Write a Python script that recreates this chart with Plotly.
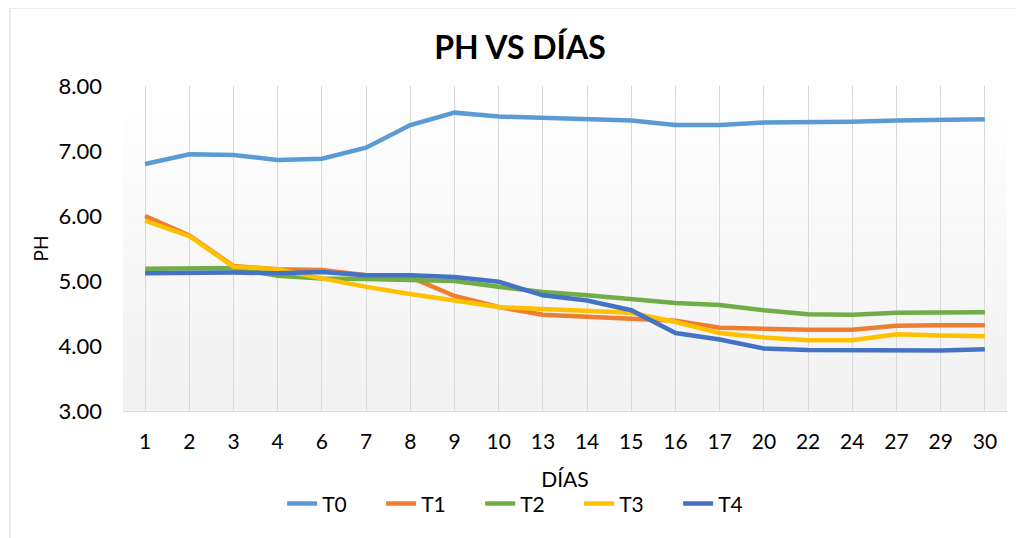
import plotly.graph_objects as go

# data
dias = ["1", "2", "3", "4", "6", "7", "8", "9", "10", "13",
        "14", "15", "16", "17", "20", "22", "24", "27", "29", "30"]

t0 = [6.80, 6.95, 6.94, 6.86, 6.88, 7.05, 7.40, 7.59, 7.53, 7.51,
      7.50, 7.47, 7.40, 7.40, 7.44, 7.44, 7.45, 7.47, 7.48, 7.49]
t1 = [6.00, 5.70, 5.23, 5.18, 5.17, 5.09, 5.06, 4.77, 4.60, 4.48,
      4.45, 4.42, 4.39, 4.28, 4.26, 4.25, 4.25, 4.31, 4.32, 4.32]
t2 = [5.19, 5.20, 5.20, 5.08, 5.04, 5.03, 5.02, 5.00, 4.91, 4.83,
      4.78, 4.72, 4.66, 4.63, 4.55, 4.49, 4.48, 4.51, 4.51, 4.52]
t3 = [5.93, 5.69, 5.22, 5.18, 5.04, 4.91, 4.80, 4.70, 4.60, 4.57,
      4.54, 4.51, 4.37, 4.20, 4.13, 4.09, 4.09, 4.18, 4.16, 4.15]
t4 = [5.12, 5.13, 5.13, 5.12, 5.14, 5.09, 5.09, 5.06, 4.99, 4.78,
      4.70, 4.55, 4.20, 4.10, 3.96, 3.94, 3.94, 3.94, 3.93, 3.95]

series = [("T0", t0, "#5B9BD5"), ("T1", t1, "#ED7D31"), ("T2", t2, "#70AD47"),
          ("T3", t3, "#FFC000"), ("T4", t4, "#4472C4")]

FONT = "Lato"

fig = go.Figure()
for name, vals, col in series:
    fig.add_trace(go.Scatter(x=dias, y=vals, name=name, mode="lines",
                             line=dict(color=col, width=4.5)))

# soft vertical gradient in plot area (white -> light grey)
shapes = []
n = 30
for i in range(n):
    g = int(255 - (255 - 242) * (i / (n - 1)))
    shapes.append(dict(type="rect", xref="x domain", yref="y domain",
                       x0=0, x1=1, y0=1 - (i + 1) / n, y1=1 - i / n,
                       fillcolor=f"rgb({g},{g},{g})", line=dict(width=0),
                       layer="below"))
# chart area border
shapes.append(dict(type="rect", xref="paper", yref="paper",
                   x0=-0.128, x1=1.03, y0=-0.42, y1=1.24,
                   line=dict(color="#D9D9D9", width=1), fillcolor="rgba(0,0,0,0)"))

# page body adds an 8px offset, margins compensate for it
fig.update_layout(
    width=1024, height=538,
    margin=dict(l=115, r=25, t=78, b=135),
    paper_bgcolor="white", plot_bgcolor="white",
    font=dict(family=FONT, color="#000000", size=21),
    title=dict(text="<b>PH VS DÍAS</b>", x=0.5, xref="container", xanchor="center",
               y=1 - 40 / 538, yanchor="middle", font=dict(size=32, family=FONT)),
    showlegend=True,
    legend=dict(orientation="h", x=0.46, xanchor="center", y=-0.286, yanchor="middle",
                font=dict(size=21), bgcolor="rgba(0,0,0,0)", entrywidth=54),
    shapes=shapes,
    hovermode=False,
)

fig.update_xaxes(type="category", range=[-0.5, len(dias) - 0.5],
                 showgrid=True, gridcolor="#D9D9D9", gridwidth=1,
                 showline=True, linecolor="#D9D9D9", linewidth=1,
                 ticks="", ticklabelstandoff=12, tickfont=dict(size=21),
                 title=dict(text="DÍAS", font=dict(size=21), standoff=20))
fig.update_yaxes(range=[3, 8], dtick=1, tickformat=".2f",
                 showgrid=False, zeroline=False, showline=False,
                 ticks="", ticklabelstandoff=20, tickfont=dict(size=22),
                 title=dict(text="PH", font=dict(size=19), standoff=4))

fig.write_html("out.html")
